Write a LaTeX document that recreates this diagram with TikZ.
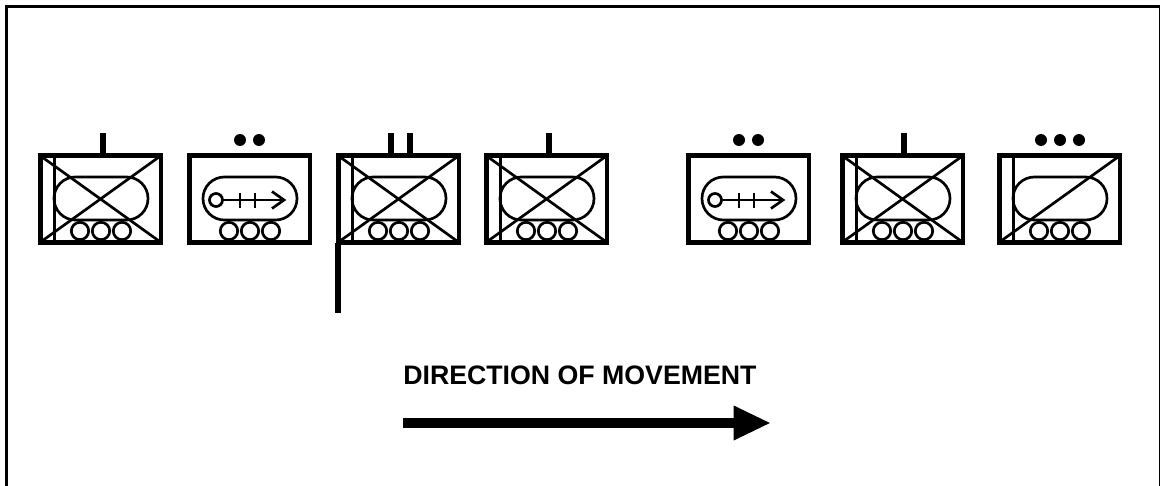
\documentclass[tikz,border=0pt]{standalone}
\usepackage{fontspec}
\setmainfont{Liberation Sans}
\usetikzlibrary{arrows.meta}

\tikzset{
  every picture/.style={x=0.025cm,y=-0.025cm},
  frameline/.style={line width=2.3pt},
  boxline/.style={line width=3.5pt},
  thinline/.style={line width=1.9pt},
  barline/.style={line width=4pt},
  pics/vehicle/.style={code={
    \draw[boxline] (2.5,2.5) rectangle (123,89.5);
    \draw[thinline,rounded corners=15.2pt] (16,24) rectangle (110,67);
    \foreach \wheel in {42,63,84}
    {
      \draw[thinline] (\wheel,78) circle (8.7);
    }
  }},
  pics/recon/.style={code={
    \draw[thinline] (16.5,4) -- (16.5,88);
    \draw[thinline] (4,88) -- (121,4);
  }},
  pics/cross/.style={code={
    \draw[thinline] (4,4) -- (121,88);
  }},
  pics/gun/.style={code={
    \draw[thinline] (29,47) circle (6.5);
    \draw[thinline] (35.5,47) -- (96,47);
    \draw[thinline] (85,38.5) -- (97,47) -- (85,55.5);
    \foreach \tick in {53,68}
    {
      \draw[thinline] (\tick,39.5) -- (\tick,54.5);
    }
  }}
}

\begin{document}
\begin{tikzpicture}
  \useasboundingbox (0,0) rectangle (1160,486);

  \pgfmathsetmacro{\boxTop}{153}

  % outer frame, open at the bottom
  \draw[frameline] (6.5,490) -- (6.5,6.5) -- (1160.5,6.5) -- (1160.5,490);

  % crossed vehicles
  \foreach \x in {38,336,484,840}
  {
    \pic at (\x,\boxTop) {vehicle};
    \pic at (\x,\boxTop) {recon};
    \pic at (\x,\boxTop) {cross};
  }
  \pic at (997,\boxTop) {vehicle};
  \pic at (997,\boxTop) {recon};

  % vehicles with the arrow
  \foreach \x in {187,686}
  {
    \pic at (\x,\boxTop) {vehicle};
    \pic at (\x,\boxTop) {gun};
  }

  % size marks
  \foreach \x in {103,391,410,549,904}
  {
    \draw[barline] (\x,133.5) -- (\x,\boxTop);
  }
  \foreach \x in {240,259,739,758,1041,1060,1079}
  {
    \fill (\x,140) circle (6);
  }

  % staff
  \draw[barline] (338,243) -- (338,313);

  \node[anchor=base west,inner sep=0pt,font=\bfseries\fontsize{19}{20}\selectfont] (title) at (403,384) {DIRECTION OF MOVEMENT};

  \coordinate (start) at (403,423);
  \coordinate (finish) at (771,423);
  \draw[-{Triangle[length=26.5pt,width=22.7pt]},line width=7.5pt] (start) -- (finish);
\end{tikzpicture}
\end{document}
